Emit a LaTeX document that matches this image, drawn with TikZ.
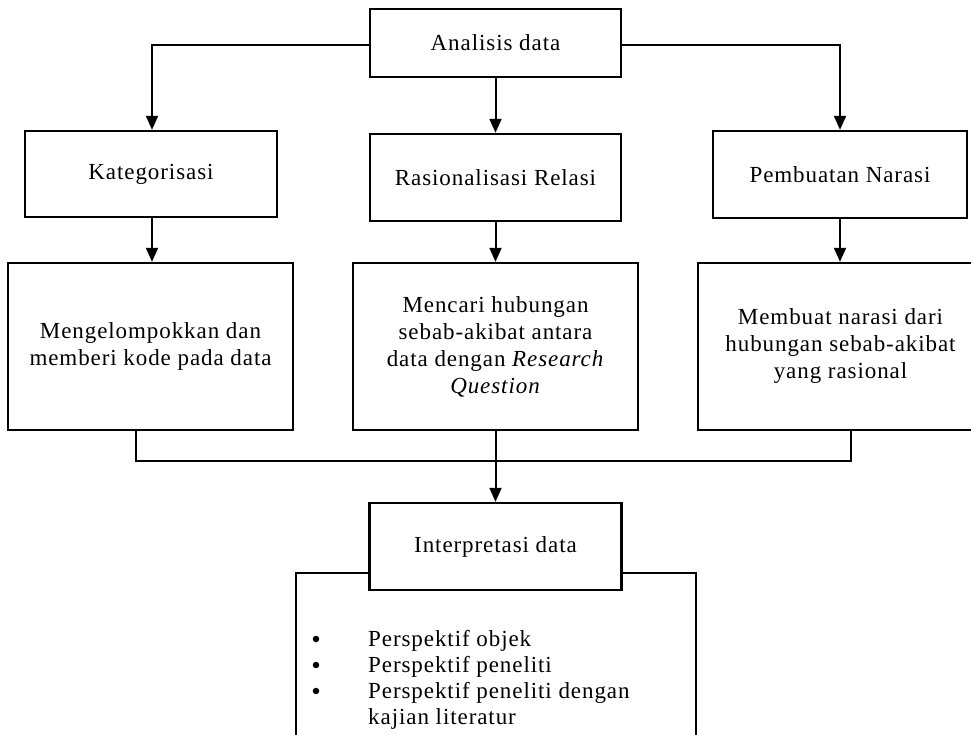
\documentclass[tikz,border=0pt]{standalone}
\usepackage{fontspec}
\setmainfont{Liberation Serif}[LetterSpace=4.0]
\usetikzlibrary{arrows.meta}
\begin{document}
\begin{tikzpicture}[x=1pt,y=-1pt,
  box/.style={draw=black, line width=2.4pt, fill=white, inner sep=0pt, align=center,
    font=\fontsize{23}{27}\selectfont},
  conn/.style={line width=2pt},
  arr/.style={conn, -{Triangle[width=12pt,length=14pt]}},
  bul/.style={circle, fill=black, inner sep=0pt, minimum size=6.5pt}]
\useasboundingbox (0,0) rectangle (971,735);
\begin{scope}
\clip (0,0) rectangle (971,735);
% top row
\node[box, minimum width=251pt, minimum height=68pt] (ana) at (495.5,43) {Analisis data};
\node[box, minimum width=252pt, minimum height=86pt] (kat) at (151,174) {Kategorisasi};
\node[box, minimum width=251pt, minimum height=87pt] (ras) at (495.5,177.5) {Rasionalisasi Relasi};
\node[box, minimum width=254pt, minimum height=87pt] (pem) at (840,174.5) {Pembuatan Narasi};
% description row
\node[box, minimum width=285pt, minimum height=167pt] (katd) at (150.5,346.5)
  {Mengelompokkan dan\\memberi kode pada data};
\node[box, minimum width=285pt, minimum height=167pt] (rasd) at (495.5,346.5)
  {Mencari hubungan\\sebab-akibat antara\\data dengan \textit{Research}\\\textit{Question}};
\node[box, minimum width=285pt, minimum height=167pt] (pemd) at (840.5,346.5)
  {Membuat narasi dari\\hubungan sebab-akibat\\yang rasional};
% interpretation
\node[box, minimum width=400pt, minimum height=200pt, anchor=north] (big) at (496,572) {};
\node[box, minimum width=252pt, minimum height=87pt] (int) at (495.5,546.5) {Interpretasi data};
\node[anchor=base west, inner sep=0pt, font=\fontsize{23}{26}\selectfont] (list) at (368,646)
  {\begin{tabular}[t]{@{}l@{}}Perspektif objek\\Perspektif peneliti\\Perspektif peneliti dengan\\kajian literatur\end{tabular}};
\node[bul] (b1) at (316,639) {};
\node[bul] (b2) at (316,665) {};
\node[bul] (b3) at (316,691) {};
\end{scope}
% connectors
\coordinate (jl) at (152,45);
\coordinate (jr) at (840,45);
\draw[arr] (ana.west |- jl) -- (jl) -- (jl |- kat.north);
\draw[arr] (ana.east |- jr) -- (jr) -- (jr |- pem.north);
\draw[arr] (ana.south -| ras.north) -- (ras.north);
\draw[arr] (kat.south -| jl) -- (jl |- katd.north);
\draw[arr] (ras.south) -- (rasd.north);
\draw[arr] (pem.south -| jr) -- (jr |- pemd.north);
\coordinate (bl) at (136,461);
\coordinate (br) at (851,461);
\draw[conn] (bl |- katd.south) -- (bl) -- (br) -- (br |- pemd.south);
\draw[arr] (rasd.south) -- (int.north);
\end{tikzpicture}
\end{document}
